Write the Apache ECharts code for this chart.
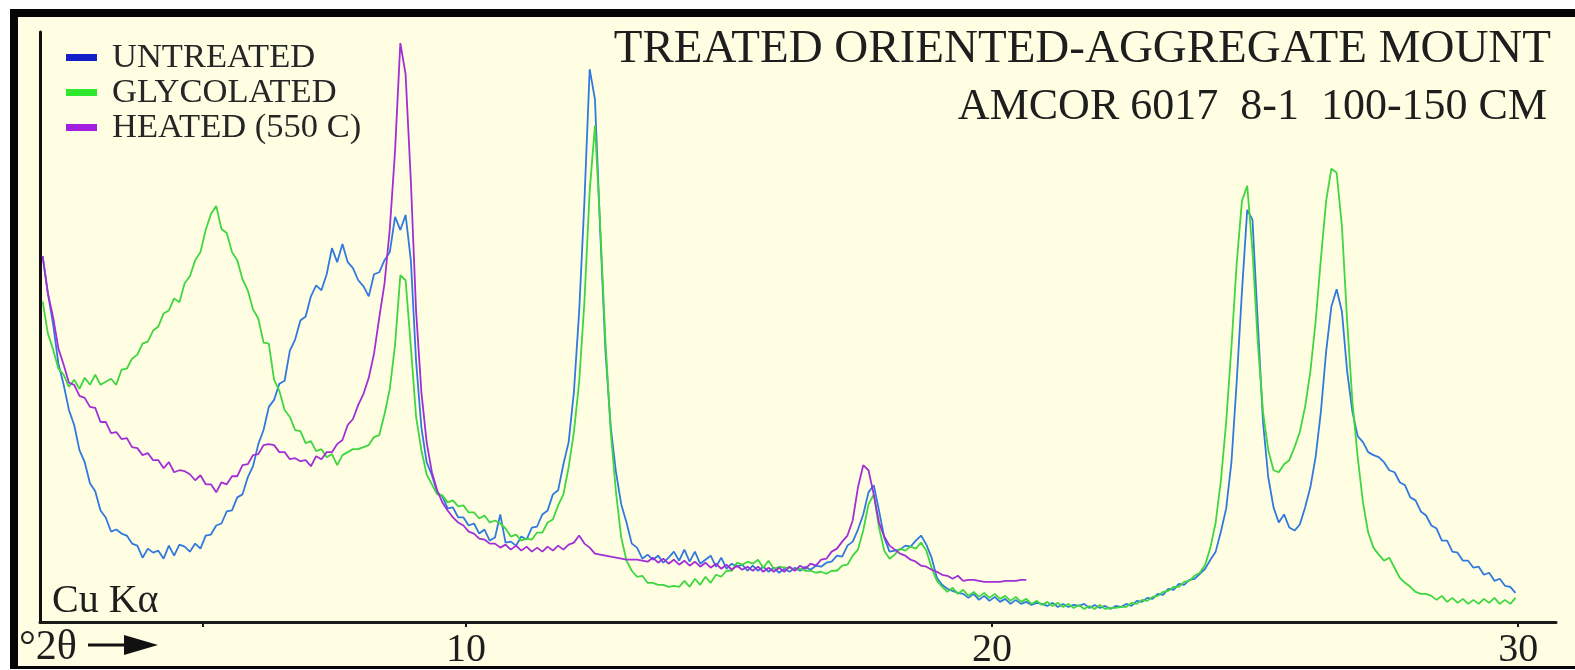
<!DOCTYPE html>
<html>
<head>
<meta charset="utf-8">
<script src="https://cdn.jsdelivr.net/npm/echarts@6/dist/echarts.min.js"></script>
<style>
  html, body { margin: 0; padding: 0; background: #ffffff; }
  #chart { width: 1575px; height: 670px; }
</style>
</head>
<body>
<div id="chart"></div>
<script>
// ---- data (intensity in arbitrary units, sampled every 0.1 deg 2-theta from 1.95) ----
const startDeg = 1.95;
const stepDeg = 0.1;
const seriesNames = ['UNTREATED', 'GLYCOLATED', 'HEATED (550 C)'];
const xTickLabels = [10, 20, 30];
const xTickMarks = [5, 10, 20, 30];

const untreated = [
  364,327,296,257,236,211,196,171,159,138,
  130,111,104,90,92,88,86,78,76,64,
  73,69,71,63,76,66,77,75,70,78,
  73,86,87,96,98,110,111,124,127,144,
  155,177,191,214,221,237,240,270,281,300,
  304,324,335,330,346,372,358,376,358,352,
  340,334,324,346,348,360,368,403,390,405,
  360,259,194,159,146,129,125,113,114,104,
  104,96,98,88,92,81,84,107,79,80,
  76,85,82,94,95,107,111,127,131,157,
  179,229,309,419,550,520,389,269,194,149,
  117,99,78,74,63,67,62,66,59,64,
  70,61,72,60,70,58,62,66,55,64,
  53,58,55,57,51,56,51,55,50,54,
  49,53,50,54,51,55,52,56,55,59,
  60,66,65,76,80,92,107,129,136,111,
  84,70,71,72,76,75,81,86,77,64,
  44,37,33,31,29,28,24,28,22,26,
  21,25,20,23,18,22,18,20,17,19,
  18,16,19,15,18,15,17,16,18,14,
  17,14,16,13,16,15,18,16,21,20,
  24,23,28,27,33,32,38,37,42,43,
  48,53,62,70,90,113,159,239,329,410,
  400,299,199,144,114,99,107,94,91,97,
  114,134,164,209,269,314,331,309,249,209,
  185,179,169,166,164,159,151,149,139,136,
  124,121,110,106,96,93,81,81,70,69,
  61,61,54,55,47,49,41,43,36,35,29
];

const glycolated = [
  319,287,271,252,246,234,241,232,243,236,
  246,236,239,242,236,251,252,262,266,277,
  279,290,294,307,310,322,318,337,344,360,
  368,390,406,414,391,387,368,360,341,330,
  311,302,278,277,241,230,211,204,191,190,
  178,180,170,172,164,167,156,166,169,172,
  172,174,176,184,186,207,232,276,345,340,
  274,204,171,147,137,127,126,119,121,115,
  116,109,109,103,106,99,101,98,93,85,
  87,81,83,82,89,89,99,102,116,127,
  154,189,239,319,429,494,394,279,189,129,
  84,61,51,45,46,39,39,37,37,35,
  36,35,41,35,43,37,45,39,47,45,
  51,51,59,57,60,58,62,54,61,53,
  55,54,54,52,53,51,51,49,50,48,
  51,51,56,57,66,72,91,117,127,94,
  71,63,67,73,71,75,73,79,71,54,
  41,35,30,34,28,32,26,30,25,29,
  24,28,23,26,21,25,20,23,18,21,
  17,20,16,19,15,18,14,17,13,16,
  13,17,13,14,14,15,15,19,18,22,
  21,25,26,30,31,35,35,40,41,46,
  49,57,74,99,141,199,274,357,419,434,
  369,279,209,171,151,149,157,161,174,189,
  214,249,299,361,419,451,447,394,299,219,
  164,119,89,74,67,61,64,54,44,39,
  35,30,28,28,26,22,26,20,24,19,
  23,18,22,18,23,19,24,18,22,18,24
];

const heated = [
  364,327,303,272,256,238,236,225,223,214,
  213,199,199,188,189,182,183,174,173,166,
  168,161,161,153,159,149,151,150,147,141,
  146,137,137,129,139,137,145,145,156,157,
  166,167,176,177,176,169,169,162,163,160,
  161,155,165,162,169,169,177,181,196,202,
  216,227,243,267,303,337,391,469,576,545,
  439,309,229,179,149,131,119,111,104,99,
  96,90,88,83,82,78,78,74,77,72,
  76,71,75,70,74,70,75,71,76,72,
  77,79,86,78,74,68,67,66,65,64,
  63,62,62,62,61,60,64,59,63,58,
  62,57,61,56,60,55,59,54,58,53,
  57,52,56,52,55,51,55,50,54,50,
  54,50,55,51,56,53,58,56,62,63,
  70,73,80,86,101,134,156,151,127,99,
  85,76,72,68,66,62,60,56,55,52,
  50,47,46,43,46,41,42,42,41,40,
  40,40,40,41,41,41,42,42
];

// ---- build ----
function toPairs(vals) {
  return vals.map((v, i) => [Math.round((startDeg + i * stepDeg) * 100) / 100, v]);
}

const serif = 'Liberation Serif, Times New Roman, serif';
const lineColors = ['#3179df', '#3fd63f', '#a22fd6'];
const legendColors = ['#1420c8', '#2ee82e', '#a21fe0'];
const values = [untreated, glycolated, heated];

const chart = echarts.init(document.getElementById('chart'), null, { renderer: 'canvas' });

const option = {
  animation: false,
  backgroundColor: 'transparent',
  graphic: [
    { type: 'rect', z: -10, silent: true, shape: { x: 10, y: 9, width: 1565, height: 660 }, style: { fill: '#050505' } },
    { type: 'rect', z: -9, silent: true, shape: { x: 18, y: 17, width: 1557, height: 649 }, style: { fill: '#fffee2' } },
    { type: 'text', z: 10, left: 52, top: 581, style: { text: 'Cu K\u03b1', font: '40px ' + serif, fill: '#1e1e1e' } },
    { type: 'text', z: 10, left: 19, top: 627, style: { text: '\u00b02\u03b8', font: '42px ' + serif, fill: '#1e1e1e' } },
    { type: 'line', z: 10, shape: { x1: 88, y1: 645, x2: 130, y2: 645 }, style: { stroke: '#111', lineWidth: 3 } },
    { type: 'polygon', z: 10, shape: { points: [[124, 635], [158, 645], [124, 655]] }, style: { fill: '#111' } }
  ],
  title: [
    { text: 'TREATED ORIENTED-AGGREGATE MOUNT', right: 24, top: 26, padding: 0,
      textStyle: { fontFamily: serif, fontSize: 47, fontWeight: 'normal', color: '#1e1e1e', lineHeight: 47 } },
    { text: 'AMCOR 6017  8-1  100-150 CM', right: 28, top: 85, padding: 0,
      textStyle: { fontFamily: serif, fontSize: 44, fontWeight: 'normal', color: '#1e1e1e', lineHeight: 44 } }
  ],
  legend: {
    orient: 'vertical', left: 66, top: 40, padding: 0, itemGap: 0,
    itemWidth: 31, itemHeight: 7, icon: 'rect', selectedMode: false,
    data: seriesNames.map((n, i) => ({ name: n, itemStyle: { color: legendColors[i] } })),
    textStyle: { fontFamily: serif, fontSize: 34.5, lineHeight: 33.5, color: '#262626', padding: [0, 0, 0, 10] }
  },
  grid: { left: 40, right: 19, top: 32, bottom: 48, containLabel: false },
  xAxis: {
    type: 'value', min: 1.9, max: 30.72,
    axisLine: { show: true, lineStyle: { color: '#1a1a1a', width: 3 } },
    axisTick: { show: true, customValues: xTickMarks, length: 5, lineStyle: { color: '#1a1a1a', width: 2 } },
    axisLabel: { customValues: xTickLabels, margin: 8, fontFamily: serif, fontSize: 40, color: '#1e1e1e' },
    splitLine: { show: false }
  },
  yAxis: {
    type: 'value', min: 0, max: 587,
    axisLine: { show: true, lineStyle: { color: '#111', width: 3 } },
    axisTick: { show: false }, axisLabel: { show: false }, splitLine: { show: false }
  },
  series: seriesNames.map((n, i) => ({
    name: n, type: 'line', showSymbol: false, symbol: 'none',
    data: toPairs(values[i]),
    itemStyle: { color: lineColors[i] },
    lineStyle: { color: lineColors[i], width: 1.8 },
    z: 3 + i
  }))
};

chart.setOption(option);
</script>
</body>
</html>
